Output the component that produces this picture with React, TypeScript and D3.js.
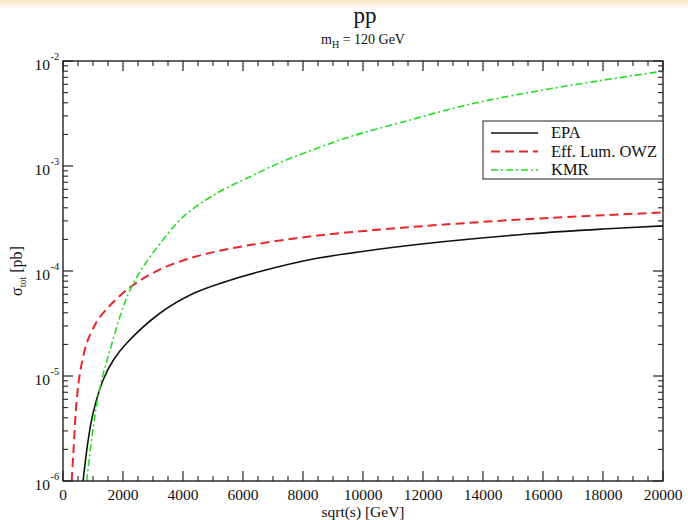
import React from 'react';
import * as d3 from 'd3';

// sqrt(s) [GeV] and sigma_tot [pb]
const epaX = [670, 840, 1000, 1340, 1680, 2120, 3230, 4340, 5460, 6570, 8340, 10570, 12570, 15570, 18000, 20000];
const epaY = [1.0e-6, 2.46e-6, 4.4e-6, 9.2e-6, 1.42e-5, 2.05e-5, 3.96e-5, 6.1e-5, 8.0e-5, 9.9e-5, 1.30e-4, 1.62e-4, 1.89e-4, 2.26e-4, 2.51e-4, 2.69e-4];

const owzX = [290, 343, 457, 567, 790, 1010, 1233, 2123, 3233, 4343, 5340, 6340, 8343, 10567, 12567, 15567, 20000];
const owzY = [1.0e-6, 1.8e-6, 5.9e-6, 1.07e-5, 2.05e-5, 2.86e-5, 3.65e-5, 6.6e-5, 1.035e-4, 1.35e-4, 1.585e-4, 1.786e-4, 2.15e-4, 2.48e-4, 2.75e-4, 3.13e-4, 3.61e-4];

const kmrX = [790, 1010, 1233, 1567, 2010, 2233, 2677, 3233, 4010, 5123, 6233, 7343, 8457, 9567, 11567, 13457, 15677, 17900, 20000];
const kmrY = [1.0e-6, 3.29e-6, 7.9e-6, 1.77e-5, 4.57e-5, 6.6e-5, 1.1e-4, 1.82e-4, 3.29e-4, 5.5e-4, 7.9e-4, 1.11e-3, 1.47e-3, 1.9e-3, 2.74e-3, 3.81e-3, 5.1e-3, 6.5e-3, 8.0e-3];

const xMajorTicks = [0, 2000, 4000, 6000, 8000, 10000, 12000, 14000, 16000, 18000, 20000];
const yDecades = [-6, -5, -4, -3, -2];

const legendLabels = ['EPA', 'Eff. Lum. OWZ', 'KMR'];

const FONT = "'Liberation Serif', 'Times New Roman', serif";

export default function App() {
  const W = 688, H = 520;
  const L = 63, R = 663, T = 61, B = 481;
  const x = d3.scaleLinear().domain([0, 20000]).range([L, R]);
  const y = d3.scaleLog().domain([1e-6, 1e-2]).range([B, T]);

  const line = d3.line<[number, number]>()
    .x(d => x(d[0]))
    .y(d => y(d[1]))
    .curve(d3.curveCatmullRom.alpha(0.5));

  const series = [
    { xs: epaX, ys: epaY, color: '#111', width: 1.6, dash: undefined as string | undefined },
    { xs: owzX, ys: owzY, color: '#e8262b', width: 2, dash: '9,5' },
    { xs: kmrX, ys: kmrY, color: '#22dd22', width: 1.6, dash: '7,3,2,3' },
  ];

  const xMinor: number[] = [];
  for (let v = 0; v <= 20000; v += 500) if (v % 2000 !== 0) xMinor.push(v);
  const yMinor: number[] = [];
  for (let e = -6; e < -2; e++) for (let m = 2; m <= 9; m++) yMinor.push(m * Math.pow(10, e));

  const axisColor = '#222';
  const MAJ = 10, MIN = 5;

  return (
    <svg width={W} height={H} style={{ position: 'absolute', left: 0, top: 0, background: '#fff' }} fontFamily={FONT}>
      <defs>
        <linearGradient id="topband" x1="0" y1="0" x2="0" y2="1">
          <stop offset="0" stopColor="#fbe3c4" />
          <stop offset="1" stopColor="#ffffff" />
        </linearGradient>
        <clipPath id="plotclip">
          <rect x={L} y={T} width={R - L} height={B - T} />
        </clipPath>
      </defs>
      <rect x={0} y={0} width={W} height={H} fill="#fff" />
      <rect x={0} y={0} width={W} height={9} fill="url(#topband)" />

      {/* titles */}
      <text x={365} y={23} textAnchor="middle" fontSize={23} fill="#111">pp</text>
      <text x={363} y={44} textAnchor="middle" fontSize={14} fill="#111">
        m<tspan fontSize={10} dy={4}>H</tspan><tspan dy={-4}> = 120 GeV</tspan>
      </text>

      {/* curves */}
      <g clipPath="url(#plotclip)">
        {series.map((s, i) => (
          <path key={i}
            d={line(s.xs.map((v, j) => [v, s.ys[j]] as [number, number])) || ''}
            fill="none" stroke={s.color} strokeWidth={s.width}
            strokeDasharray={s.dash} />
        ))}
      </g>

      {/* frame */}
      <rect x={L} y={T} width={R - L} height={B - T} fill="none" stroke={axisColor} strokeWidth={1.4} />

      {/* x ticks */}
      {xMajorTicks.map(v => (
        <g key={'xM' + v}>
          <line x1={x(v)} x2={x(v)} y1={B} y2={B - MAJ} stroke={axisColor} strokeWidth={1.2} />
          <line x1={x(v)} x2={x(v)} y1={T} y2={T + MAJ} stroke={axisColor} strokeWidth={1.2} />
          <text x={x(v)} y={500} textAnchor="middle" fontSize={15.5} fill="#111">{v}</text>
        </g>
      ))}
      {xMinor.map(v => (
        <g key={'xm' + v}>
          <line x1={x(v)} x2={x(v)} y1={B} y2={B - MIN} stroke={axisColor} strokeWidth={1.1} />
          <line x1={x(v)} x2={x(v)} y1={T} y2={T + MIN} stroke={axisColor} strokeWidth={1.1} />
        </g>
      ))}

      {/* y ticks */}
      {yDecades.map(e => {
        const yy = y(Math.pow(10, e));
        return (
          <g key={'yM' + e}>
            <line x1={L} x2={L + MAJ} y1={yy} y2={yy} stroke={axisColor} strokeWidth={1.2} />
            <line x1={R} x2={R - MAJ} y1={yy} y2={yy} stroke={axisColor} strokeWidth={1.2} />
            <text x={50} y={yy + 9} textAnchor="end" fontSize={15.5} fill="#111">10</text>
            <text x={50.5} y={yy - 1} textAnchor="start" fontSize={10.5} fill="#111">{'-' + Math.abs(e)}</text>
          </g>
        );
      })}
      {yMinor.map((v, i) => (
        <g key={'ym' + i}>
          <line x1={L} x2={L + MIN} y1={y(v)} y2={y(v)} stroke={axisColor} strokeWidth={1.1} />
          <line x1={R} x2={R - MIN} y1={y(v)} y2={y(v)} stroke={axisColor} strokeWidth={1.1} />
        </g>
      ))}

      {/* axis titles */}
      <text x={363} y={517} textAnchor="middle" fontSize={15.5} fill="#111">sqrt(s) [GeV]</text>
      <text transform={`translate(22, ${(T + B) / 2}) rotate(-90)`} textAnchor="middle" fontSize={16} fill="#111">
        σ<tspan fontSize={10} dy={4}>tot</tspan><tspan dy={-4}> [pb]</tspan>
      </text>

      {/* legend */}
      <g>
        <rect x={483} y={121} width={R - 483} height={58} fill="#fff" stroke="#444" strokeWidth={1.2} />
        {series.map((s, i) => {
          const ly = 133 + i * 18.5;
          return (
            <g key={'lg' + i}>
              <line x1={491} x2={538} y1={ly} y2={ly} stroke={s.color} strokeWidth={s.width} strokeDasharray={s.dash} />
              <text x={551} y={ly + 5} fontSize={16.5} fill="#111">{legendLabels[i]}</text>
            </g>
          );
        })}
      </g>
    </svg>
  );
}
